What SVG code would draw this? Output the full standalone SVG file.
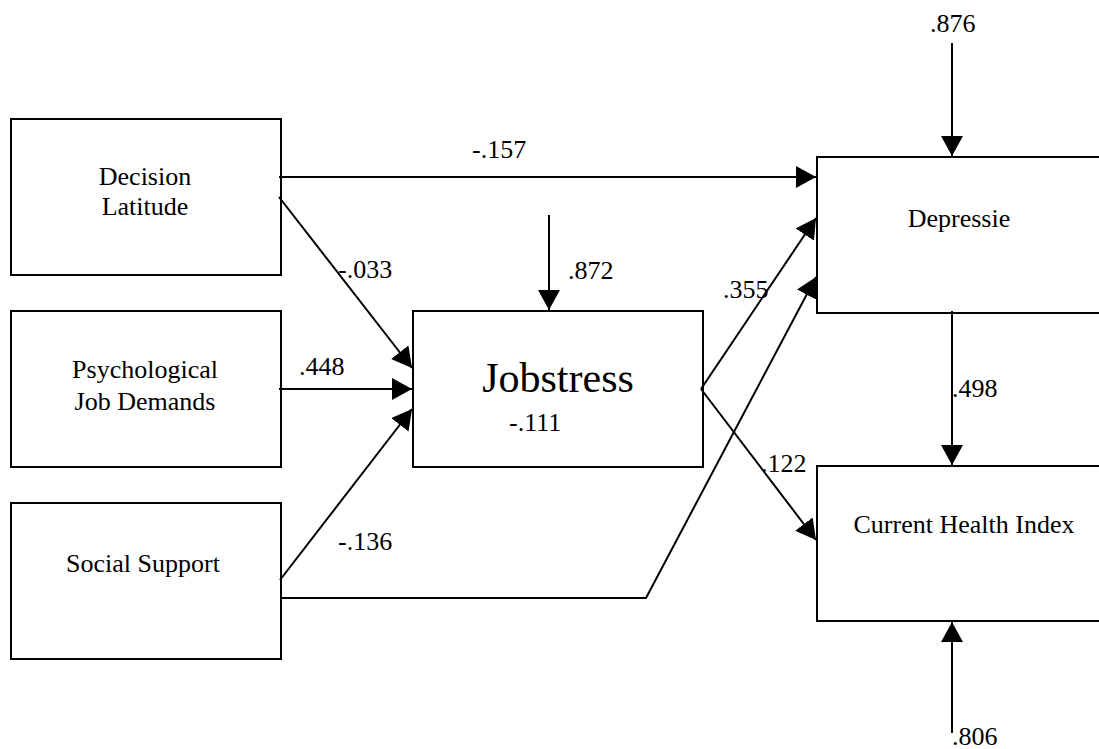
<svg xmlns="http://www.w3.org/2000/svg" width="1099" height="749" viewBox="0 0 1099 749">
<style>
.box{fill:#fff;stroke:#000;stroke-width:2}
.ln{fill:none;stroke:#000;stroke-width:2}
text{font-family:"Liberation Serif","Times New Roman",serif;font-size:26px;fill:#000}
.c{text-anchor:middle}
.big{font-size:42px}
</style>
<defs>
<marker id="ah" viewBox="0 0 20 22" refX="20" refY="11" markerWidth="20" markerHeight="22" markerUnits="userSpaceOnUse" orient="auto">
<path d="M0,0 L20,11 L0,22 z" fill="#000"/>
</marker>
</defs>
<rect width="1099" height="749" fill="#fff"/>
<g id="decision">
<rect class="box" x="11" y="119" width="270" height="156"/>
<text class="c" x="145" y="185">Decision</text>
<text class="c" x="145" y="215">Latitude</text>
</g>
<g id="psych">
<rect class="box" x="11" y="311" width="270" height="156"/>
<text class="c" x="145" y="378">Psychological</text>
<text class="c" x="145" y="410">Job Demands</text>
</g>
<g id="social">
<rect class="box" x="11" y="503" width="270" height="156"/>
<text class="c" x="143" y="572">Social Support</text>
</g>
<g id="jobstress">
<rect class="box" x="413" y="311" width="290" height="156"/>
<text class="c big" x="558" y="392">Jobstress</text>
<text x="509" y="431">-.111</text>
</g>
<g id="depressie">
<rect class="box" x="817" y="157" width="300" height="156"/>
<text class="c" x="959" y="227">Depressie</text>
</g>
<g id="chi">
<rect class="box" x="817" y="466" width="300" height="155"/>
<text class="c" x="964" y="533">Current Health Index</text>
</g>
<g id="connectors">
<line class="ln" x1="279" y1="177" x2="816" y2="177" marker-end="url(#ah)"/>
<line class="ln" x1="279" y1="197" x2="412" y2="368" marker-end="url(#ah)"/>
<line class="ln" x1="279" y1="389" x2="412" y2="389" marker-end="url(#ah)"/>
<line class="ln" x1="280" y1="580" x2="412" y2="409" marker-end="url(#ah)"/>
<polyline class="ln" points="280,598 646,598 816,277" marker-end="url(#ah)"/>
<line class="ln" x1="701" y1="389" x2="816" y2="218" marker-end="url(#ah)"/>
<line class="ln" x1="701" y1="389" x2="816" y2="540" marker-end="url(#ah)"/>
<line class="ln" x1="549" y1="215" x2="549" y2="310" marker-end="url(#ah)"/>
<line class="ln" x1="952" y1="43" x2="952" y2="156" marker-end="url(#ah)"/>
<line class="ln" x1="952" y1="311" x2="952" y2="465" marker-end="url(#ah)"/>
<line class="ln" x1="952" y1="733" x2="952" y2="622" marker-end="url(#ah)"/>
</g>
<g id="labels">
<text x="472" y="158">-.157</text>
<text x="338" y="278">-.033</text>
<text x="299" y="375">.448</text>
<text x="338" y="550">-.136</text>
<text x="568" y="279">.872</text>
<text x="723" y="298">.355</text>
<text x="761" y="472">.122</text>
<text x="930" y="32">.876</text>
<text x="952" y="397">.498</text>
<text x="952" y="745">.806</text>
</g>
</svg>
